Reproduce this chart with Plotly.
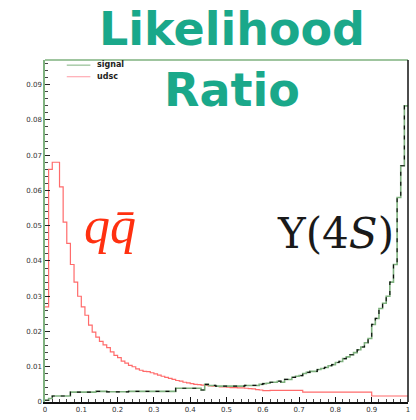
import numpy as np
import plotly.graph_objects as go

n_bins = 100
signal = [0.0005, 0.0010, 0.0017, 0.0017, 0.0017, 0.0017, 0.0017, 0.0028, 0.0028, 0.0028,
          0.0028, 0.0028, 0.0028, 0.0028, 0.0030, 0.0030, 0.0030, 0.0029, 0.0029, 0.0029,
          0.0029, 0.0029, 0.0029, 0.0030, 0.0030, 0.0030, 0.0030, 0.0030, 0.0030, 0.0030,
          0.0030, 0.0030, 0.0030, 0.0030, 0.0030, 0.0030, 0.0039, 0.0039, 0.0039, 0.0039,
          0.0039, 0.0039, 0.0039, 0.0034, 0.0050, 0.0047, 0.0047, 0.0045, 0.0045, 0.0045,
          0.0045, 0.0045, 0.0045, 0.0045, 0.0045, 0.0047, 0.0047, 0.0047, 0.0047, 0.0050,
          0.0052, 0.0053, 0.0056, 0.0056, 0.0059, 0.0056, 0.0064, 0.0064, 0.0070, 0.0073,
          0.0075, 0.0081, 0.0084, 0.0087, 0.0087, 0.0092, 0.0095, 0.0098, 0.0103, 0.0106,
          0.0112, 0.0115, 0.0123, 0.0128, 0.0134, 0.0140, 0.0148, 0.0156, 0.0168, 0.0180,
          0.0220, 0.0237, 0.0265, 0.0280, 0.0300, 0.0340, 0.0390, 0.0580, 0.0670, 0.0840]
udsc = [0.0270, 0.0660, 0.0680, 0.0680, 0.0610, 0.0510, 0.0450, 0.0390, 0.0340, 0.0300,
        0.0270, 0.0246, 0.0218, 0.0198, 0.0184, 0.0172, 0.0162, 0.0154, 0.0142, 0.0132,
        0.0126, 0.0116, 0.0110, 0.0104, 0.0100, 0.0094, 0.0090, 0.0087, 0.0086, 0.0083,
        0.0080, 0.0076, 0.0073, 0.0070, 0.0067, 0.0064, 0.0061, 0.0059, 0.0056, 0.0054,
        0.0052, 0.0050, 0.0049, 0.0048, 0.0047, 0.0046, 0.0045, 0.0044, 0.0043, 0.0043,
        0.0042, 0.0041, 0.0041, 0.0040, 0.0040, 0.0039, 0.0038, 0.0037, 0.0035, 0.0034,
        0.0032, 0.0032, 0.0033, 0.0033, 0.0033, 0.0033, 0.0033, 0.0033, 0.0033, 0.0033,
        0.0033, 0.0028, 0.0028, 0.0028, 0.0028, 0.0028, 0.0028, 0.0028, 0.0028, 0.0028,
        0.0028, 0.0028, 0.0028, 0.0028, 0.0028, 0.0028, 0.0028, 0.0028, 0.0028, 0.0028,
        0.0017, 0.0017, 0.0017, 0.0017, 0.0017, 0.0017, 0.0017, 0.0017, 0.0017, 0.0017]

x_ticks = [0, 0.1, 0.2, 0.3, 0.4, 0.5, 0.6, 0.7, 0.8, 0.9, 1]
x_labels = ["0", "0.1", "0.2", "0.3", "0.4", "0.5", "0.6", "0.7", "0.8", "0.9", "1"]
y_ticks = [0, 0.01, 0.02, 0.03, 0.04, 0.05, 0.06, 0.07, 0.08, 0.09]
y_labels = ["0", "0.01", "0.02", "0.03", "0.04", "0.05", "0.06", "0.07", "0.08", "0.09"]

edges = np.linspace(0, 1, n_bins + 1)

def step(vals):
    xs = list(edges)
    ys = list(vals) + [vals[-1]]
    return xs, ys

GREEN = "#7fb27f"
RED = "#ff6b6b"

fig = go.Figure()
sx, sy = step(signal)
ux, uy = step(udsc)
fig.add_trace(go.Scatter(x=ux, y=uy, mode="lines", line=dict(color=RED, width=1.2, shape="hv"),
                         name="udsc", showlegend=False))
fig.add_trace(go.Scatter(x=sx, y=sy, mode="lines", line=dict(color=GREEN, width=1.6, shape="hv"),
                         name="signal", showlegend=False))
fig.add_trace(go.Scatter(x=sx, y=sy, mode="lines", line=dict(color="#111", width=1.2, shape="hv", dash="4px,6px"),
                         name="signal_err", showlegend=False, hoverinfo="skip"))

fig.update_layout(
    width=416, height=420,
    margin=dict(l=45, r=6, t=60, b=12),
    paper_bgcolor="white", plot_bgcolor="white",
    showlegend=False,
    xaxis=dict(range=[0, 1], tickvals=x_ticks, ticktext=x_labels, ticks="inside", ticklen=5,
               tickcolor="#111", showline=True, linecolor="#111", linewidth=1.5, mirror=False,
               showgrid=False, zeroline=False, tickfont=dict(size=7, color="#333", family="DejaVu Sans"),
               minor=dict(ticks="inside", ticklen=3, dtick=0.02, tickcolor="#444")),
    yaxis=dict(range=[0, 0.097], tickvals=y_ticks, ticktext=y_labels, ticks="inside", ticklen=5,
               tickcolor="#222", showline=True, linecolor=GREEN, linewidth=1.5,
               showgrid=False, zeroline=False, tickfont=dict(size=7, color="#333", family="DejaVu Sans"),
               minor=dict(ticks="inside", ticklen=3, dtick=0.002, tickcolor="#444")),
)

# frame: top green, right black
fig.add_shape(type="line", xref="paper", yref="paper", x0=0, x1=1, y0=1, y1=1,
              line=dict(color=GREEN, width=1.5))
fig.add_shape(type="line", xref="paper", yref="paper", x0=1, x1=1, y0=0, y1=1,
              line=dict(color="#111", width=1.5))

# legend
fig.add_shape(type="line", xref="paper", yref="paper", x0=0.06, x1=0.125, y0=0.985, y1=0.985,
              line=dict(color=GREEN, width=1))
fig.add_shape(type="line", xref="paper", yref="paper", x0=0.06, x1=0.125, y0=0.951, y1=0.951,
              line=dict(color="#ff9aa5", width=1))
fig.add_annotation(xref="paper", yref="paper", x=0.137, y=0.987, text="<b>signal</b>", showarrow=False,
                   xanchor="left", yanchor="middle", font=dict(size=8, color="#222", family="DejaVu Sans"))
fig.add_annotation(xref="paper", yref="paper", x=0.137, y=0.953, text="<b>udsc</b>", showarrow=False,
                   xanchor="left", yanchor="middle", font=dict(size=8, color="#222", family="DejaVu Sans"))

TEAL = "#1aa88a"
fig.add_annotation(xref="paper", yref="paper", x=0.515, y=1.092, text="<b>Likelihood</b>", showarrow=False,
                   xanchor="center", yanchor="middle", font=dict(size=46, color=TEAL, family="DejaVu Sans"))
fig.add_annotation(xref="paper", yref="paper", x=0.515, y=0.911, text="<b>Ratio</b>", showarrow=False,
                   xanchor="center", yanchor="middle", font=dict(size=46, color=TEAL, family="DejaVu Sans"))

fig.add_annotation(x=0.18, y=0.050, text="<i>qq\u0304</i>", showarrow=False,
                   xanchor="center", yanchor="middle", font=dict(size=52, color="#ff3010", family="Liberation Serif"))
fig.add_annotation(x=0.80, y=0.0478, text="\u03a5(4<i>S</i>)", showarrow=False,
                   xanchor="center", yanchor="middle", font=dict(size=42, color="#1a1a1a", family="DejaVu Serif"))

fig.write_html("out.html")
